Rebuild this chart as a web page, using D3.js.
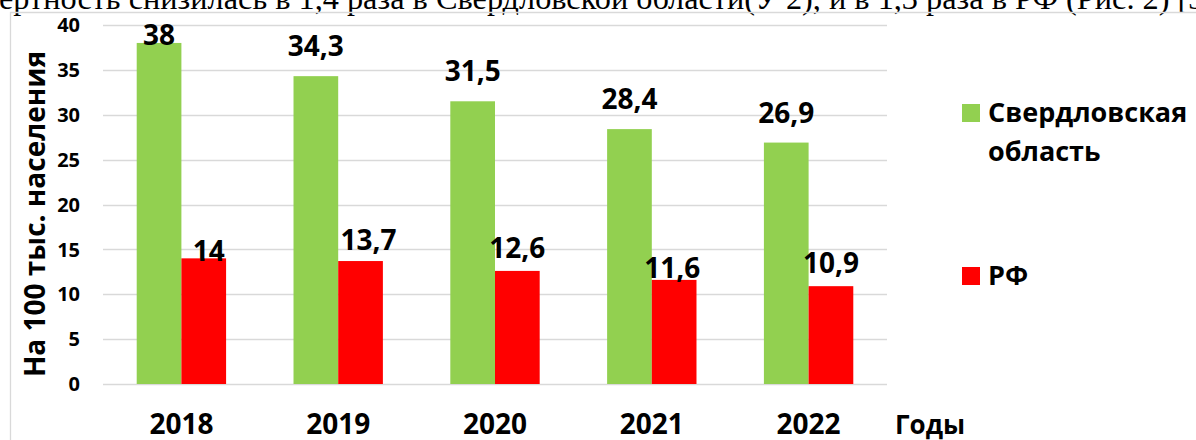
<!DOCTYPE html>
<html><head><meta charset="utf-8">
<script src="https://cdn.jsdelivr.net/npm/d3@7"></script>
<style>html,body{margin:0;padding:0;background:#fff;overflow:hidden}</style>
</head><body>
<svg id="chart" width="1196" height="440"></svg>
<script>
// ---- data ----
const years = ["2018", "2019", "2020", "2021", "2022"];
const sverdlovsk = [38, 34.3, 31.5, 28.4, 26.9];
const russia = [14, 13.7, 12.6, 11.6, 10.9];
const seriesNames = ["Свердловская область", "РФ"];
const yTicks = [0, 5, 10, 15, 20, 25, 30, 35, 40];
const yTitle = "На 100 тыс. населения";
const xTitle = "Годы";
const topText = "ертность снизилась в 1,4 раза в Свердловской области(У 2), и в 1,3 раза в РФ (Рис. 2) [3";

// ---- layout / style ----
const colors = ["#92d050", "#ff0000"];
const grid = "#d9d9d9";
const font = "'Open Sans', 'DejaVu Sans', sans-serif";
const svg = d3.select("#chart");

// label nudges (manual placement in the source chart), px relative to bar top / centre
const labelDy = [[2, -20, -20, -20, -20], [3, -11, -13, -2, -13]];
const labelDx = [[0, 0, 0, 0, 0], [5, 8, 0, -2, 0]];

// top cut-off line of body text
const tt = svg.append("text").attr("x", -1).attr("y", 8.5)
  .attr("font-family", "'Liberation Serif', 'Times New Roman', serif")
  .attr("font-size", 26).attr("fill", "#000").text(topText);
const natural = tt.node().getComputedTextLength();
tt.attr("font-size", 26 * 1206 / natural);

// frame
svg.append("path").attr("d", "M10.5,440 V12.5 H1196")
  .attr("fill", "none").attr("stroke", grid).attr("stroke-width", 1.3);

const x = d3.scaleBand().domain(years).range([103, 887]).paddingInner(0.43).paddingOuter(0.215);
const xs = d3.scaleBand().domain([0, 1]).range([0, x.bandwidth()]);
const y = d3.scaleLinear().domain([0, 40]).range([384, 25]);

// gridlines
svg.append("g").selectAll("line").data(yTicks).join("line")
  .attr("x1", 103).attr("x2", 887)
  .attr("y1", d => Math.round(y(d)) + 0.5).attr("y2", d => Math.round(y(d)) + 0.5)
  .attr("stroke", grid).attr("stroke-width", 1.5);

// y tick labels
svg.append("g").selectAll("text").data(yTicks).join("text")
  .attr("x", 80).attr("y", d => y(d)).attr("dy", "0.36em")
  .attr("text-anchor", "end").attr("font-family", font).attr("font-weight", 700)
  .attr("font-size", 20).attr("fill", "#000").text(d => d);

// y title
svg.append("text").attr("transform", "translate(45,214) rotate(-90)")
  .attr("text-anchor", "middle").attr("font-family", font).attr("font-weight", 700)
  .attr("font-size", 28).attr("fill", "#000").text(yTitle);

// bars
const series = [sverdlovsk, russia];
series.forEach((vals, si) => {
  svg.append("g").selectAll("rect").data(vals).join("rect")
    .attr("x", (d, i) => x(years[i]) + xs(si))
    .attr("width", xs.bandwidth())
    .attr("y", d => y(d))
    .attr("height", d => y(0) - y(d))
    .attr("fill", colors[si]);
});

// value labels
series.forEach((vals, si) => {
  svg.append("g").selectAll("text").data(vals).join("text")
    .attr("x", (d, i) => x(years[i]) + xs(si) + xs.bandwidth() / 2 + labelDx[si][i])
    .attr("y", (d, i) => y(d) + labelDy[si][i])
    .attr("text-anchor", "middle").attr("font-family", font).attr("font-weight", 700)
    .attr("font-size", 28).attr("fill", "#000")
    .text(d => String(d).replace(".", ","));
});

// x labels
svg.append("g").selectAll("text").data(years).join("text")
  .attr("x", d => x(d) + x.bandwidth() / 2).attr("y", 434)
  .attr("text-anchor", "middle").attr("font-family", font).attr("font-weight", 700)
  .attr("font-size", 28).attr("fill", "#000").text(d => d);

svg.append("text").attr("x", 895).attr("y", 434)
  .attr("font-family", font).attr("font-weight", 700)
  .attr("font-size", 26).attr("fill", "#000").text(xTitle);

// legend
const legend = svg.append("g");
const legendRows = [{ y: 104, lines: ["Свердловская", "область"] }, { y: 267, lines: ["РФ"] }];
legendRows.forEach((row, i) => {
  legend.append("rect").attr("x", 962).attr("y", row.y).attr("width", 18).attr("height", 18)
    .attr("fill", colors[i]);
  const t = legend.append("text").attr("x", 988).attr("y", row.y + 18)
    .attr("font-family", font).attr("font-weight", 700).attr("font-size", 27).attr("fill", "#000");
  row.lines.forEach((ln, j) => t.append("tspan").attr("x", 988).attr("dy", j ? 39 : 0).text(ln));
});
</script>
</body></html>
